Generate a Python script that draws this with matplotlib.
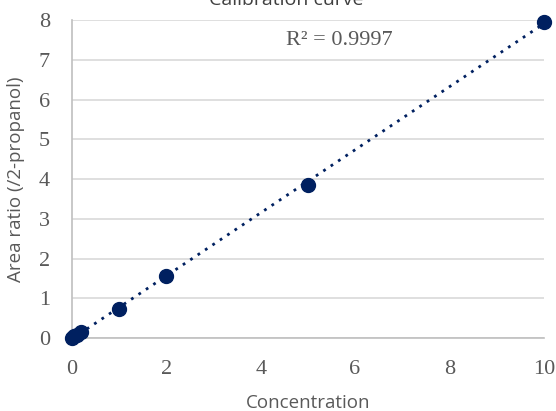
import numpy as np
import matplotlib as mat
mat.use('agg')
import matplotlib.pyplot as plt

# calibration points
concentration = [0, 0.05, 0.1, 0.2, 1, 2, 5, 10]
area_ratio = [0, 0.04, 0.08, 0.16, 0.74, 1.55, 3.85, 7.96]
r2_label = 'R² = 0.9997'

navy = '#002060'
grey_text = '#595959'

fig = plt.figure(figsize=(5.56, 4.11), dpi=100)
ax = fig.add_axes([0.1295, 0.1776, 0.8485, 0.7735])

# linear trendline from the points
slope, intercept = np.polyfit(concentration, area_ratio, 1)
xfit = np.array([0, 10])
ax.plot(xfit, slope * xfit + intercept, color=navy, lw=2, ls=(0, (1, 2.2)),
        zorder=2)
ax.plot(concentration, area_ratio, 'o', color=navy, ms=10, zorder=3,
        clip_on=False)

ax.set_xlim(0, 10)
ax.set_ylim(0, 8)
ax.set_xticks(range(0, 11, 2))
ax.set_yticks(range(0, 9))
ax.grid(axis='y', color='#d9d9d9', lw=1.2)
ax.set_axisbelow(True)
for s in ['top', 'right']:
    ax.spines[s].set_visible(False)
ax.spines['left'].set_color('#bfbfbf')
ax.spines['bottom'].set_color('#bfbfbf')
ax.spines['left'].set_linewidth(1.2)
ax.spines['bottom'].set_linewidth(1.2)
ax.tick_params(length=0, labelsize=16, labelcolor=grey_text)
ax.tick_params(axis='y', pad=16)
ax.tick_params(axis='x', pad=16)
for lab in ax.get_xticklabels() + ax.get_yticklabels():
    lab.set_fontfamily('Liberation Serif')

ax.set_xlabel('Concentration', fontsize=13.5, color=grey_text,
              family='Open Sans')
ax.set_ylabel('Area ratio (/2-propanol)', fontsize=13.5, color=grey_text,
              family='Open Sans')
ax.xaxis.set_label_coords(0.5, -0.175)
ax.yaxis.set_label_coords(-0.1, 0.5)

ax.text(0.566, 0.937, r2_label, transform=ax.transAxes, fontsize=16,
        color=grey_text, family='Liberation Serif', ha='center', va='center')

fig.text(0.515, 0.988, 'Calibration curve', fontsize=14, color='#404040',
         family='Open Sans', ha='center', va='baseline')

fig.savefig('out.png', dpi=100)
